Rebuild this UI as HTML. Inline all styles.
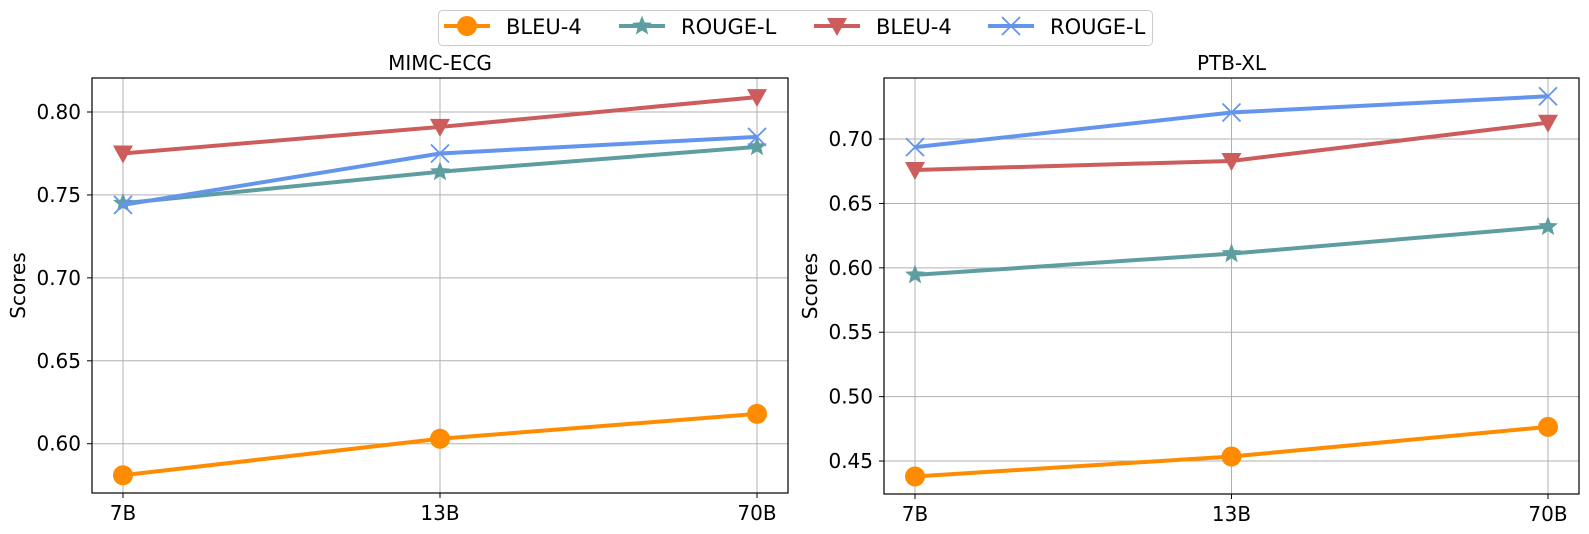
<!DOCTYPE html>
<html><head><meta charset="utf-8"><style>
body{margin:0;background:#fff;}
svg{display:block;font-family:"DejaVu Sans","Liberation Sans",sans-serif;}
</style></head><body>
<svg id="chart" width="1589" height="534" viewBox="0 0 1589 534"></svg>
<script>
const categories = ["7B","13B","70B"];
const seriesNames = ["BLEU-4","ROUGE-L","BLEU-4","ROUGE-L"];
const mimicBleuA = [0.581,0.603,0.618];
const mimicRougeA = [0.745,0.764,0.779];
const mimicBleuB = [0.775,0.791,0.809];
const mimicRougeB = [0.744,0.775,0.785];
const ptbBleuA = [0.438,0.4535,0.4765];
const ptbRougeA = [0.5945,0.611,0.632];
const ptbBleuB = [0.676,0.683,0.7127];
const ptbRougeB = [0.6937,0.7206,0.7332];
const mimicTicks = [0.60,0.65,0.70,0.75,0.80];
const ptbTicks = [0.45,0.50,0.55,0.60,0.65,0.70];

const NS="http://www.w3.org/2000/svg";
const svg=document.getElementById('chart');
const colors=["#ff8c00","#5f9ea0","#cd5c5c","#6495ed"];
const markers=["circle","star","tri","x"];
function el(t,a,p){const e=document.createElementNS(NS,t);for(const k in a)e.setAttribute(k,a[k]);(p||svg).appendChild(e);return e;}
function marker(type,x,y,c,g){
  let e;
  if(type==="circle") e=el('circle',{cx:x,cy:y,r:10,fill:c},g);
  else if(type==="tri") e=el('polygon',{points:`${x-10},${y-8} ${x+10},${y-8} ${x},${y+10}`,fill:c},g);
  else if(type==="x") e=el('path',{d:`M${x-9},${y-9}L${x+9},${y+9}M${x-9},${y+9}L${x+9},${y-9}`,stroke:c,'stroke-width':1.8,fill:'none'},g);
  else {let p=[];for(let i=0;i<10;i++){const r=i%2?4.5:10.5;const a=-Math.PI/2+i*Math.PI/5;p.push((x+r*Math.cos(a)).toFixed(1)+','+(y+r*Math.sin(a)).toFixed(1));}
    e=el('polygon',{points:p.join(' '),fill:c},g);}
  return e;
}
function panel(name,title,L,R,T,B,ymin,ymax,ticks,series){
  const g=el('g',{});
  
  
  const xs=i=>L+31+i*(R-L-62)/(categories.length-1);
  const ys=v=>B-(v-ymin)/(ymax-ymin)*(B-T);
  categories.forEach((c,i)=>{
    el('line',{x1:xs(i),x2:xs(i),y1:T,y2:B,stroke:'#b0b0b0','stroke-width':1},g);
    el('line',{x1:xs(i),x2:xs(i),y1:B,y2:B+5,stroke:'#000'},g);
    const t=el('text',{x:xs(i),y:B+27,'font-size':20,'text-anchor':'middle'},g);t.textContent=c;
    
    
  });
  ticks.forEach(v=>{
    el('line',{x1:L,x2:R,y1:ys(v),y2:ys(v),stroke:'#b0b0b0','stroke-width':1},g);
    el('line',{x1:L-5,x2:L,y1:ys(v),y2:ys(v),stroke:'#000'},g);
    const t=el('text',{x:L-11,y:ys(v)+7,'font-size':20,'text-anchor':'end'},g);t.textContent=v.toFixed(2);
    
    
  });
  series.forEach((s,si)=>{
    const pts=s.map((v,i)=>xs(i)+','+ys(v)).join(' ');
    const pl=el('polyline',{points:pts,fill:'none',stroke:colors[si],'stroke-width':4},g);
    
    
    s.forEach((v,i)=>{const m=marker(markers[si],xs(i),ys(v),colors[si],g);
      
      });
  });
  el('rect',{x:L,y:T,width:R-L,height:B-T,fill:'none',stroke:'#000','stroke-width':1.2},g);
  const tt=el('text',{x:(L+R)/2,y:T-8,'font-size':20,'text-anchor':'middle'},g);tt.textContent=title;
  
  
  const yt=el('text',{x:0,y:0,'font-size':20,'text-anchor':'middle',transform:`translate(${L-67},${(T+B)/2}) rotate(-90)`},g);yt.textContent='Scores';
  
  
}
panel('mimic-panel','MIMC-ECG',92,788,78,493,0.5703,0.8205,mimicTicks,[mimicBleuA,mimicRougeA,mimicBleuB,mimicRougeB]);
panel('ptb-panel','PTB-XL',884,1579,78,494,0.4244,0.7474,ptbTicks,[ptbBleuA,ptbRougeA,ptbBleuB,ptbRougeB]);
// legend
const lg=el('g',{});


el('rect',{x:438.5,y:10.5,width:714,height:35,rx:4,fill:'#fff',stroke:'#ccc'},lg);
const lx=[444,619,814,988];
seriesNames.forEach((n,i)=>{
  el('line',{x1:lx[i],x2:lx[i]+46,y1:26,y2:26,stroke:colors[i],'stroke-width':4},lg);
  marker(markers[i],lx[i]+23,26,colors[i],lg);
  const t=el('text',{x:lx[i]+62,y:34,'font-size':21,'font-family':'DejaVu Sans'},lg);t.textContent=n;
  
  
});
</script>
</body></html>
